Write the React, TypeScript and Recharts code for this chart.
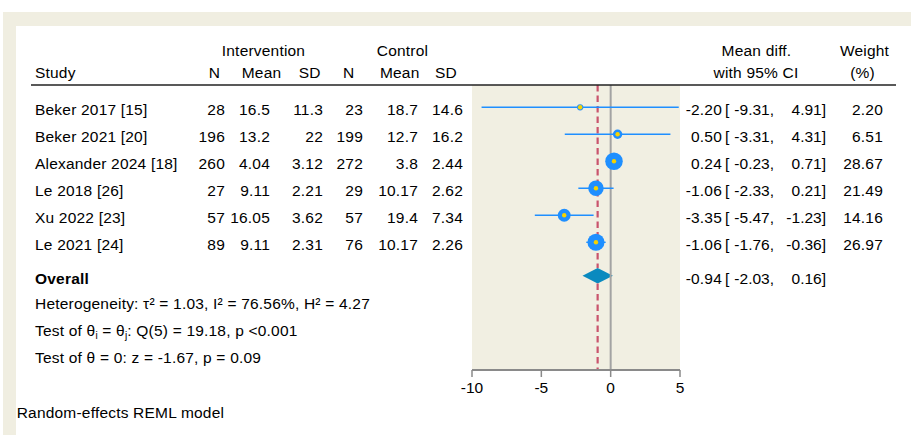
import React from 'react';
import { ComposedChart, XAxis, YAxis, Scatter, ReferenceLine, ReferenceArea } from 'recharts';

// Study-level data
const studies = ['Beker 2017 [15]', 'Beker 2021 [20]', 'Alexander 2024 [18]', 'Le 2018 [26]', 'Xu 2022 [23]', 'Le 2021 [24]'];
const intN = [28, 196, 260, 27, 57, 89];
const intMean = [16.5, 13.2, 4.04, 9.11, 16.05, 9.11];
const intSD = [11.3, 22, 3.12, 2.21, 3.62, 2.31];
const ctlN = [23, 199, 272, 29, 57, 76];
const ctlMean = [18.7, 12.7, 3.8, 10.17, 19.4, 10.17];
const ctlSD = [14.6, 16.2, 2.44, 2.62, 7.34, 2.26];
const meanDiff = [-2.2, 0.5, 0.24, -1.06, -3.35, -1.06];
const ciLow = [-9.31, -3.31, -0.23, -2.33, -5.47, -1.76];
const ciHigh = [4.91, 4.31, 0.71, 0.21, -1.23, -0.36];
const weights = [2.2, 6.51, 28.67, 21.49, 14.16, 26.97];

// Pooled estimate
const overallEst = -0.94;
const overallLow = -2.03;
const overallHigh = 0.16;

const xTicks = [-10, -5, 0, 5];

// Row layout (in row units along the vertical axis)
const studyRows = studies.map((_, i) => i);
const overallRow = 6.24;
const diamondHalf = 0.29;
const statsRows = [7.19, 8.17, 9.17];
const yDomain: [number, number] = [-0.826, 9.73];

const FONT = '"Liberation Sans", Arial, Helvetica, sans-serif';
const FS = 15.5;
const BLUE = '#1f8fff';
const YELLOW = '#f6d200';
const txt = { fontFamily: FONT, fontSize: FS, letterSpacing: 0.2, fill: '#000' } as const;

const scatterData = studies.map((s, i) => ({ x: meanDiff[i], y: studyRows[i], w: weights[i] }));

const markerRadius = (w: number) => 1.45 * Math.sqrt(w) + 1;
const f2 = (v: number) => v.toFixed(2);

const LeftTick = (props: any) => {
  const { y, payload } = props;
  const v = payload.value;
  const b = y + 7.8;
  const i = studyRows.indexOf(v);
  if (i >= 0) {
    return (
      <g>
        <text x={35} y={b} {...txt}>{studies[i]}</text>
        <text x={225} y={b} textAnchor="end" {...txt}>{String(intN[i])}</text>
        <text x={270} y={b} textAnchor="end" {...txt}>{String(intMean[i])}</text>
        <text x={323} y={b} textAnchor="end" {...txt}>{String(intSD[i])}</text>
        <text x={363} y={b} textAnchor="end" {...txt}>{String(ctlN[i])}</text>
        <text x={418} y={b} textAnchor="end" {...txt}>{String(ctlMean[i])}</text>
        <text x={463} y={b} textAnchor="end" {...txt}>{String(ctlSD[i])}</text>
      </g>
    );
  }
  if (v === overallRow) {
    return <text x={35} y={b} {...txt} fontWeight="bold">Overall</text>;
  }
  const s = statsRows.indexOf(v);
  if (s === 0) {
    return <text x={35} y={b} {...txt}>Heterogeneity: τ² = 1.03, I² = 76.56%, H² = 4.27</text>;
  }
  if (s === 1) {
    return (
      <text x={35} y={b} {...txt}>
        Test of θ<tspan fontSize={10} dy={3}>i</tspan>
        <tspan dy={-3}> = θ</tspan>
        <tspan fontSize={10} dy={3}>j</tspan>
        <tspan dy={-3}>: Q(5) = 19.18, p &lt;0.001</tspan>
      </text>
    );
  }
  if (s === 2) {
    return <text x={35} y={b} {...txt}>Test of θ = 0: z = -1.67, p = 0.09</text>;
  }
  return <g />;
};

const ciPieces = (b: number, est: number, lo: number, hi: number) => (
  <>
    <text x={722} y={b} textAnchor="end" {...txt}>{f2(est)}</text>
    <text x={725} y={b} {...txt}>[</text>
    <text x={774} y={b} textAnchor="end" {...txt} letterSpacing={0}>{f2(lo) + ','}</text>
    <text x={826} y={b} textAnchor="end" {...txt} letterSpacing={0}>{f2(hi) + ']'}</text>
  </>
);

const RightTick = (props: any) => {
  const { y, payload } = props;
  const v = payload.value;
  const b = y + 7.8;
  const i = studyRows.indexOf(v);
  if (i >= 0) {
    return (
      <g>
        {ciPieces(b, meanDiff[i], ciLow[i], ciHigh[i])}
        <text x={883} y={b} textAnchor="end" {...txt}>{f2(weights[i])}</text>
      </g>
    );
  }
  if (v === overallRow) {
    return <g>{ciPieces(b, overallEst, overallLow, overallHigh)}</g>;
  }
  return <g />;
};

const StudyMarker = (p: any) => {
  if (p.cx == null || p.cy == null) return <g />;
  return (
    <g>
      <circle cx={p.cx} cy={p.cy} r={markerRadius(p.payload.w)} fill={BLUE} />
      <circle cx={p.cx} cy={p.cy} r={2.2} fill={YELLOW} />
    </g>
  );
};

const Diamond = (p: any) => {
  const { x, y, width, height } = p;
  const cx = x + (width * (overallEst - overallLow)) / (overallHigh - overallLow);
  const cy = y + height / 2;
  const pts = `${x},${cy} ${cx},${y} ${x + width},${cy} ${cx},${y + height}`;
  return <polygon points={pts} fill="#0a8abf" />;
};

export default function App() {
  return (
    <div style={{ position: 'absolute', left: 0, top: 0, width: 911, height: 435, background: '#fff', overflow: 'hidden' }}>
      <svg width={911} height={435} style={{ position: 'absolute', left: 0, top: 0 }}>
        <rect x={3} y={12} width={908} height={14} fill="#f0eee1" />
        <rect x={3} y={12} width={13} height={423} fill="#f0eee1" />
      </svg>
      <div style={{ position: 'absolute', left: 0, top: 0 }}>
        <ComposedChart width={911} height={435} margin={{ top: 85, right: 0, bottom: 35, left: 32 }}>
          <XAxis
            type="number"
            dataKey="x"
            domain={[-10, 5]}
            ticks={xTicks}
            allowDataOverflow
            interval={0}
            height={30}
            tickSize={7}
            tickMargin={5}
            axisLine={{ stroke: '#8a8a8a', strokeWidth: 2 }}
            tickLine={{ stroke: '#8a8a8a', strokeWidth: 1.5 }}
            tick={{ fill: '#000', fontSize: FS, fontFamily: FONT }}
          />
          <YAxis
            yAxisId="left"
            type="number"
            dataKey="y"
            domain={yDomain}
            reversed
            allowDataOverflow
            ticks={[...studyRows, overallRow, ...statsRows]}
            interval={0}
            width={440}
            axisLine={false}
            tickLine={false}
            tick={LeftTick}
          />
          <YAxis
            yAxisId="right"
            orientation="right"
            type="number"
            domain={yDomain}
            reversed
            allowDataOverflow
            ticks={[...studyRows, overallRow]}
            interval={0}
            width={231}
            axisLine={false}
            tickLine={false}
            tick={RightTick}
          />
          <ReferenceArea yAxisId="left" x1={-10} x2={5} fill="#f1efe2" fillOpacity={1} stroke="none" ifOverflow="visible" />
          <ReferenceArea
            yAxisId="left"
            x1={overallLow}
            x2={overallHigh}
            y1={overallRow - diamondHalf}
            y2={overallRow + diamondHalf}
            shape={Diamond}
            ifOverflow="visible"
          />
          <ReferenceLine yAxisId="left" x={0} stroke="#a3a3a3" strokeWidth={2} />
          {/* pooled-estimate line, interrupted by the diamond */}
          <ReferenceLine
            yAxisId="left"
            segment={[{ x: overallEst, y: yDomain[0] }, { x: overallEst, y: overallRow - diamondHalf }]}
            stroke="#c9546d"
            strokeWidth={2.2}
            strokeDasharray="6.5 4"
          />
          <ReferenceLine
            yAxisId="left"
            segment={[{ x: overallEst, y: overallRow + diamondHalf }, { x: overallEst, y: yDomain[1] }]}
            stroke="#c9546d"
            strokeWidth={2.2}
            strokeDasharray="6.5 4"
          />
          {studies.map((s, i) => (
            <ReferenceLine
              key={s}
              yAxisId="left"
              segment={[{ x: ciLow[i], y: studyRows[i] }, { x: ciHigh[i], y: studyRows[i] }]}
              stroke={BLUE}
              strokeWidth={1.4}
              ifOverflow="visible"
            />
          ))}
          <Scatter yAxisId="left" data={scatterData} shape={StudyMarker} isAnimationActive={false} />
        </ComposedChart>
      </div>
      <svg width={911} height={435} style={{ position: 'absolute', left: 0, top: 0, pointerEvents: 'none' }}>
        <g>
          <text x={263.5} y={56} textAnchor="middle" {...txt}>Intervention</text>
          <text x={402.5} y={56} textAnchor="middle" {...txt}>Control</text>
          <text x={35} y={78.3} {...txt}>Study</text>
          <text x={214.5} y={78.3} textAnchor="middle" {...txt}>N</text>
          <text x={261.5} y={78.3} textAnchor="middle" {...txt}>Mean</text>
          <text x={309.7} y={78.3} textAnchor="middle" {...txt}>SD</text>
          <text x={348.7} y={78.3} textAnchor="middle" {...txt}>N</text>
          <text x={399.7} y={78.3} textAnchor="middle" {...txt}>Mean</text>
          <text x={446} y={78.3} textAnchor="middle" {...txt}>SD</text>
          <text x={756.5} y={56} textAnchor="middle" {...txt}>Mean diff.</text>
          <text x={756} y={78.3} textAnchor="middle" {...txt}>with 95% CI</text>
          <text x={864.5} y={56} textAnchor="middle" {...txt}>Weight</text>
          <text x={862.5} y={78.3} textAnchor="middle" {...txt}>(%)</text>
          <text x={16.7} y={417.7} {...txt}>Random-effects REML model</text>
        </g>
        <line x1={31} x2={896} y1={85} y2={85} stroke="#222" strokeWidth={1.4} />
      </svg>
    </div>
  );
}
